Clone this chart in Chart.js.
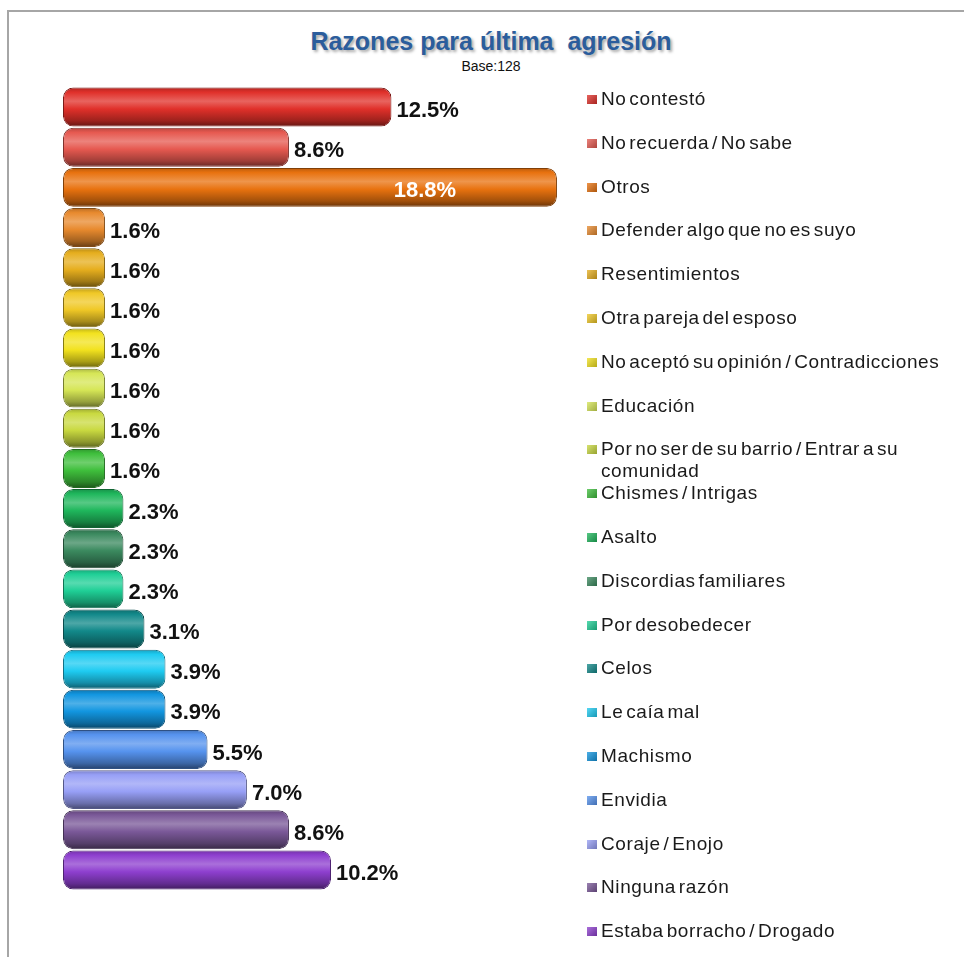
<!DOCTYPE html>
<html>
<head>
<meta charset="utf-8">
<script src="https://cdn.jsdelivr.net/npm/chart.js@4.4.0/dist/chart.umd.min.js"></script>
<style>
    body { margin: 0; background: #fff; font-family: "Liberation Sans", Arial, sans-serif; }
    #marco { position: absolute; left: 7px; top: 10px; width: 1000px; height: 1000px;
             border-top: 2px solid #a6a6a6; border-left: 2px solid #a6a6a6; }
    #titulo { position: absolute; left: 241px; width: 500px; top: 27px; text-align: center;
              font-weight: bold; font-size: 25px; color: #2b5d9c; white-space: pre;
              text-shadow: 2px 2px 3px rgba(0,0,0,0.35); }
    #base { position: absolute; left: 391px; width: 200px; top: 58px; text-align: center;
            font-size: 14px; color: #111; }
    #grafico { position: absolute; left: 0; top: 80px; }
    #leyenda { position: absolute; left: 587px; top: 88px; margin: 0; padding: 0; list-style: none; }
    #leyenda li { height: 43.8px; display: flex; align-items: flex-start; }
    #leyenda .marca { width: 10px; height: 9px; margin-top: 7px; margin-right: 4px; flex: none; }
    #leyenda .texto { font-size: 19px; line-height: 22px; color: #1a1a1a; width: 355px;
                      word-spacing: -3px; letter-spacing: 0.6px; }
</style>
</head>
<body>
<div id="marco"></div>
<div id="titulo">Razones para última  agresión</div>
<div id="base">Base:128</div>
<canvas id="grafico" width="600" height="820"></canvas>
<ul id="leyenda"></ul>

<script>
    // categorias y porcentajes
    const categorias = ['No contestó', 'No recuerda / No sabe', 'Otros', 'Defender algo que no es suyo',
        'Resentimientos', 'Otra pareja del esposo', 'No aceptó su opinión / Contradicciones', 'Educación',
        'Por no ser de su barrio / Entrar a su comunidad', 'Chismes / Intrigas', 'Asalto',
        'Discordias familiares', 'Por desobedecer', 'Celos', 'Le caía mal', 'Machismo', 'Envidia',
        'Coraje / Enojo', 'Ninguna razón', 'Estaba borracho / Drogado'];
    const porcentajes = [12.5, 8.6, 18.8, 1.6, 1.6, 1.6, 1.6, 1.6, 1.6, 1.6,
        2.3, 2.3, 2.3, 3.1, 3.9, 3.9, 5.5, 7.0, 8.6, 10.2];
    const colores = ['#e0302a', '#e65950', '#e8720f', '#e88a2e', '#e6ae1e', '#f0c826', '#f2e21e',
        '#d6e656', '#c9d940', '#3fbf3c', '#1fb75c', '#3b8a5f', '#1fcf96', '#12898a', '#1ecbf1',
        '#1296e0', '#5693ee', '#979ff6', '#7a5898', '#8e3fcf'];

    function tono(hex, f) {
        // f > 0 aclara, f < 0 oscurece
        const n = parseInt(hex.slice(1), 16);
        let c = [(n >> 16) & 255, (n >> 8) & 255, n & 255];
        c = c.map(v => f >= 0 ? Math.round(v + (255 - v) * f) : Math.round(v * (1 + f)));
        return 'rgb(' + c.join(',') + ')';
    }

    // leyenda en html
    const leyenda = document.getElementById('leyenda');
    categorias.forEach(function(cat, i) {
        const li = document.createElement('li');
        const marca = document.createElement('span');
        marca.className = 'marca';
        marca.style.background = 'linear-gradient(135deg,' + tono(colores[i], 0.25) + ',' + tono(colores[i], -0.25) + ')';
        const texto = document.createElement('span');
        texto.className = 'texto';
        texto.textContent = cat;
        li.appendChild(marca);
        li.appendChild(texto);
        leyenda.appendChild(li);
    });

    // etiquetas de valor al final de cada barra
    const etiquetas = {
        id: 'etiquetas',
        afterDatasetsDraw(chart) {
            const ctx = chart.ctx;
            const meta = chart.getDatasetMeta(0);
            const maximo = Math.max(...porcentajes);
            ctx.save();
            ctx.font = 'bold 22px "Liberation Sans", Arial, sans-serif';
            ctx.textBaseline = 'middle';
            meta.data.forEach(function(bar, i) {
                const txt = porcentajes[i].toFixed(1) + '%';
                if (porcentajes[i] === maximo) {
                    ctx.fillStyle = '#ffffff';
                    ctx.textAlign = 'center';
                    ctx.fillText(txt, bar.x - 132, bar.y + 4);
                } else {
                    ctx.fillStyle = '#111111';
                    ctx.textAlign = 'left';
                    ctx.fillText(txt, bar.x + 5, bar.y + 4);
                }
            });
            ctx.restore();
        }
    };

    function relleno(context) {
        const chart = context.chart;
        const base = colores[context.dataIndex];
        if (!chart.chartArea) return base;
        const y = chart.scales.y.getPixelForValue(context.dataIndex);
        const h = 19.5;
        const g = chart.ctx.createLinearGradient(0, y - h, 0, y + h);
        g.addColorStop(0, tono(base, -0.2));
        g.addColorStop(0.12, base);
        g.addColorStop(0.35, tono(base, 0.25));
        g.addColorStop(0.55, base);
        g.addColorStop(0.85, tono(base, -0.3));
        g.addColorStop(1, tono(base, -0.55));
        return g;
    }

    const ctx = document.getElementById('grafico').getContext('2d');
    new Chart(ctx, {
        type: 'bar',
        data: {
            labels: categorias,
            datasets: [{
                data: porcentajes,
                backgroundColor: relleno,
                borderColor: colores.map(c => tono(c, -0.45)),
                borderWidth: 1,
                borderRadius: 10,
                borderSkipped: false,
                barPercentage: 0.97,
                categoryPercentage: 1
            }]
        },
        options: {
            indexAxis: 'y',
            responsive: false,
            animation: false,
            layout: { padding: { left: 63, right: 11.5, top: 7, bottom: 10 } },
            scales: {
                x: { display: false, min: 0, max: 20 },
                y: { display: false }
            },
            plugins: {
                legend: { display: false },
                tooltip: { enabled: false }
            }
        },
        plugins: [etiquetas]
    });
</script>
</body>
</html>
